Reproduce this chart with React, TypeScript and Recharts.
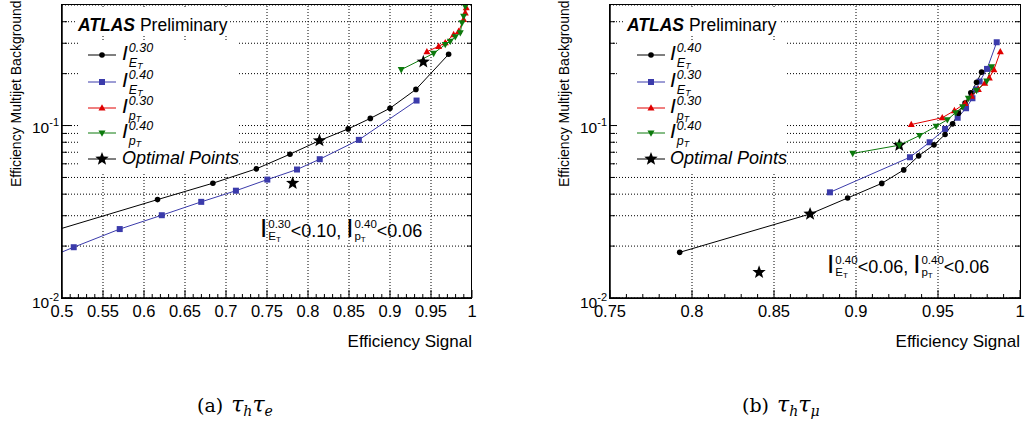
import React from 'react';
import {
  ComposedChart,
  Line,
  Scatter,
  XAxis,
  YAxis,
  CartesianGrid,
  ReferenceLine,
  Legend
} from 'recharts';

const FONT = '"Liberation Sans", Arial, Helvetica, sans-serif';
const SERIF = '"DejaVu Serif", "Liberation Serif", serif';

const BLUE = '#3b3bab';
const RED = '#e00000';
const GREEN = '#0d7a0d';

// (a) tau_h tau_e : signal efficiency (x) vs multijet background efficiency (y)
const etIso30SigA = [0.45, 0.6165, 0.684, 0.737, 0.778, 0.814, 0.849, 0.876, 0.9, 0.9316, 0.9715];
const etIso30BkgA = [0.0215, 0.0372, 0.0463, 0.0561, 0.0682, 0.0818, 0.0956, 0.11, 0.126, 0.162, 0.259];
const etIso40SigA = [0.48, 0.5143, 0.5704, 0.6217, 0.6698, 0.7121, 0.7504, 0.7866, 0.8143, 0.862, 0.9324];
const etIso40BkgA = [0.0169, 0.0197, 0.0251, 0.0302, 0.0361, 0.0419, 0.0486, 0.0556, 0.0638, 0.0826, 0.1396];
const ptIso30SigA = [0.945, 0.9593, 0.9674, 0.9776, 0.9837, 0.9898, 0.9918, 0.993];
const ptIso30BkgA = [0.268, 0.288, 0.302, 0.337, 0.352, 0.412, 0.45, 0.482];
const ptIso40SigA = [0.9137, 0.9532, 0.9674, 0.9735, 0.9796, 0.9857, 0.9878, 0.9898, 0.9918];
const ptIso40BkgA = [0.211, 0.262, 0.295, 0.308, 0.327, 0.345, 0.394, 0.43, 0.49];
const optimalSigA = [0.7813, 0.814, 0.9406];
const optimalBkgA = [0.0463, 0.0818, 0.234];

// (b) tau_h tau_mu
const etIso40SigB = [0.7925, 0.872, 0.8949, 0.9157, 0.9291, 0.9382, 0.9476, 0.9543, 0.9589, 0.9625, 0.9665, 0.97, 0.9735, 0.9766];
const etIso40BkgB = [0.0184, 0.0307, 0.038, 0.0462, 0.0553, 0.0667, 0.0773, 0.0887, 0.1023, 0.118, 0.135, 0.155, 0.178, 0.204];
const etIso30SigB = [0.8841, 0.9329, 0.9449, 0.9543, 0.962, 0.9671, 0.971, 0.9732, 0.9754, 0.9799, 0.9858];
const etIso30BkgB = [0.041, 0.0655, 0.08, 0.0956, 0.111, 0.126, 0.144, 0.162, 0.18, 0.213, 0.304];
const ptIso30SigB = [0.9337, 0.9526, 0.96, 0.9665, 0.9705, 0.9746, 0.9785, 0.9813, 0.9841, 0.988];
const ptIso30BkgB = [0.1014, 0.111, 0.122, 0.1346, 0.148, 0.162, 0.176, 0.189, 0.211, 0.268];
const ptIso40SigB = [0.898, 0.9264, 0.9388, 0.9488, 0.9557, 0.9607, 0.965, 0.9685, 0.9735, 0.9797, 0.9827];
const ptIso40BkgB = [0.0689, 0.0769, 0.0875, 0.099, 0.108, 0.1186, 0.1285, 0.1436, 0.16, 0.181, 0.219];
const optimalSigB = [0.8409, 0.872, 0.9264];
const optimalBkgB = [0.0141, 0.0307, 0.0769];

// axes
const bkgDomain: [number, number] = [0.01, 0.5];
const bkgTicks = [0.01, 0.02, 0.03, 0.04, 0.05, 0.06, 0.07, 0.08, 0.09, 0.1, 0.2, 0.3, 0.4];
const bkgDecades = [0.01, 0.1];
const sigMajorA = [0.5, 0.55, 0.6, 0.65, 0.7, 0.75, 0.8, 0.85, 0.9, 0.95, 1];
const sigMajorB = [0.75, 0.8, 0.85, 0.9, 0.95, 1];

const zip = (xs: number[], ys: number[]) => xs.map((x, i) => ({ x, y: ys[i] }));

const minorSteps = (lo: number, hi: number) => {
  const out: number[] = [];
  for (let k = Math.round(lo * 100); k <= Math.round(hi * 100); k++) out.push(k / 100);
  return out;
};

const isIn = (list: number[], v: number) => list.some(m => Math.abs(m - v) < 1e-6);

const Marker = ({ shape, cx, cy, color }: any) => {
  if (cx == null || cy == null || isNaN(cx) || isNaN(cy)) return null;
  if (shape === 'circle') return <circle cx={cx} cy={cy} r={2.8} fill={color} />;
  if (shape === 'square') return <rect x={cx - 3} y={cy - 3} width={6} height={6} fill={color} />;
  if (shape === 'up')
    return <polygon points={`${cx},${cy - 3.8} ${cx + 3.5},${cy + 2.6} ${cx - 3.5},${cy + 2.6}`} fill={color} />;
  if (shape === 'down')
    return <polygon points={`${cx},${cy + 3.8} ${cx + 3.5},${cy - 2.6} ${cx - 3.5},${cy - 2.6}`} fill={color} />;
  return <StarMark cx={cx} cy={cy} r={7} />;
};

const StarMark = ({ cx, cy, r }: any) => {
  const pts: string[] = [];
  for (let i = 0; i < 10; i++) {
    const rad = i % 2 === 0 ? r : r * 0.42;
    const a = -Math.PI / 2 + (i * Math.PI) / 5;
    pts.push(`${cx + rad * Math.cos(a)},${cy + rad * Math.sin(a)}`);
  }
  return <polygon points={pts.join(' ')} fill="#000" />;
};

const sigTick = (majors: number[], side: 'bottom' | 'top') => (p: any) => {
  const v = p.payload.value;
  const major = isIn(majors, v);
  const len = major ? 8 : 4;
  const dir = side === 'bottom' ? -1 : 1;
  return (
    <g>
      <line x1={p.x} x2={p.x} y1={p.y} y2={p.y + dir * len} stroke="#000" strokeWidth={1} />
      {side === 'bottom' && major && (
        <text x={p.x} y={p.y + 19} textAnchor="middle" fontSize={16.5} fontFamily={FONT} fill="#000">
          {String(+v.toFixed(2))}
        </text>
      )}
    </g>
  );
};

const bkgTick = (side: 'left' | 'right') => (p: any) => {
  const v = p.payload.value;
  const decade = isIn(bkgDecades, v);
  const len = decade ? 10 : 5;
  const dir = side === 'left' ? 1 : -1;
  return (
    <g>
      <line x1={p.x} x2={p.x + dir * len} y1={p.y} y2={p.y} stroke="#000" strokeWidth={1} />
      {side === 'left' && decade && (
        <text
          x={p.x - 3}
          y={p.y + (v === bkgDomain[0] ? 10 : 7)}
          textAnchor="end"
          fontSize={15.5}
          fontFamily={FONT}
          fill="#000"
        >
          10<tspan dy={-7} fontSize={11}>{String(Math.round(Math.log10(v)))}</tspan>
        </text>
      )}
    </g>
  );
};

const xTitle = (lp: any) => {
  const vb = lp.viewBox;
  return (
    <text x={vb.x + vb.width} y={vb.y + 49} textAnchor="end" fontSize={17} fontFamily={FONT} fill="#000">
      Efficiency Signal
    </text>
  );
};

const yTitle = (lp: any) => {
  const vb = lp.viewBox;
  const tx = vb.x + vb.width - 41.5;
  const ty = vb.y + 182;
  return (
    <text x={tx} y={ty} transform={`rotate(-90, ${tx}, ${ty})`} fontSize={14} fontFamily={FONT} fill="#000">
      Efficiency Multijet Background
    </text>
  );
};

// I^{cone}_{E_T or p_T}
const IsoVar = ({ cone, kind, iSize, small, raise, gap, italic }: any) => (
  <span style={{ fontStyle: italic ? 'italic' : 'normal' }}>
    <span style={{ fontSize: iSize, lineHeight: '10px' }}>I</span>
    <span
      style={{
        display: 'inline-flex',
        flexDirection: 'column',
        alignItems: 'flex-start',
        fontSize: small,
        lineHeight: `${gap}px`,
        position: 'relative',
        top: -raise,
        marginLeft: 1
      }}
    >
      <span>{cone}</span>
      <span>
        {kind}
        <span style={{ fontSize: small * 0.7, position: 'relative', top: 2 }}>T</span>
      </span>
    </span>
  </span>
);

const BaseText = ({ x, base, size, children }: any) => (
  <div
    style={{
      position: 'absolute',
      left: x,
      top: base - 0.8465 * size,
      fontSize: size,
      lineHeight: `${size}px`,
      whiteSpace: 'nowrap',
      fontFamily: FONT,
      color: '#000'
    }}
  >
    {children}
  </div>
);

const Overlay = ({ lay, entries, note }: any) => {
  const rows = [55, 81.5, 107.5, 133, 159];
  return (
    <div style={{ position: 'relative', width: 514, height: 360 }}>
      <div style={{ position: 'absolute', background: '#fff', ...lay.atlasBox }} />
      <div style={{ position: 'absolute', background: '#fff', ...lay.legendBox }} />
      <BaseText x={lay.atlasX} base={32} size={17.5}>
        <b><i>ATLAS</i></b> Preliminary
      </BaseText>
      {entries.map((e: any, i: number) => (
        <React.Fragment key={e.name}>
          <svg
            style={{ position: 'absolute', left: lay.markerX, top: rows[i] - 8 }}
            width={28}
            height={16}
          >
            <line x1={0} x2={28} y1={8} y2={8} stroke={e.color} strokeWidth={1} />
            <Marker shape={e.marker} cx={14} cy={8} color={e.color} />
          </svg>
          <BaseText x={lay.labelX} base={rows[i] + 5.5} size={18}>
            {e.cone ? (
              <IsoVar cone={e.cone} kind={e.kind} iSize={21} small={12.5} raise={8} gap={15} italic />
            ) : (
              <i>{e.name}</i>
            )}
          </BaseText>
        </React.Fragment>
      ))}
      <BaseText x={note.x} base={note.base} size={18}>
        <IsoVar cone={note.et} kind="E" iSize={26} small={11.5} raise={9} gap={12} />
        {`<${note.etCut}, `}
        <IsoVar cone={note.pt} kind="p" iSize={26} small={11.5} raise={9} gap={12} />
        {`<${note.ptCut}`}
      </BaseText>
    </div>
  );
};

const W = 514;
const H = 360;

const Panel = ({ cfg }: any) => {
  const ticks = minorSteps(cfg.domain[0], cfg.domain[1]);
  return (
    <ComposedChart width={W} height={H} margin={cfg.margin}>
      <CartesianGrid vertical={false} stroke="#000" strokeDasharray="1 2" strokeWidth={1} />
      {cfg.majors.slice(1, -1).map((v: number) => (
        <ReferenceLine key={v} x={v} stroke="#000" strokeDasharray="1 2" strokeWidth={1} />
      ))}
      <XAxis
        type="number"
        dataKey="x"
        domain={cfg.domain}
        allowDataOverflow
        ticks={ticks}
        interval={0}
        tickSize={0}
        tickMargin={0}
        height={1}
        tick={sigTick(cfg.majors, 'bottom')}
        axisLine={{ stroke: '#000', strokeWidth: 1.5 }}
        label={xTitle}
      />
      <XAxis
        xAxisId="top"
        orientation="top"
        type="number"
        domain={cfg.domain}
        allowDataOverflow
        ticks={ticks}
        interval={0}
        tickSize={0}
        tickMargin={0}
        height={1}
        tick={sigTick(cfg.majors, 'top')}
        axisLine={false}
      />
      <YAxis
        type="number"
        dataKey="y"
        scale="log"
        domain={bkgDomain}
        allowDataOverflow
        ticks={bkgTicks}
        interval={0}
        tickSize={0}
        tickMargin={0}
        width={1}
        tick={bkgTick('left')}
        axisLine={{ stroke: '#000', strokeWidth: 1.5 }}
        label={yTitle}
      />
      <YAxis
        yAxisId="right"
        orientation="right"
        type="number"
        scale="log"
        domain={bkgDomain}
        allowDataOverflow
        ticks={bkgTicks}
        interval={0}
        tickSize={0}
        tickMargin={0}
        width={1}
        tick={bkgTick('right')}
        axisLine={false}
      />
      {cfg.series.map((s: any) => (
        <Line
          key={s.name}
          name={s.name}
          data={zip(s.sig, s.bkg)}
          dataKey="y"
          type="linear"
          stroke={s.color}
          strokeWidth={1}
          dot={(p: any) => <Marker key={`${s.name}-${p.index}`} shape={s.marker} cx={p.cx} cy={p.cy} color={s.color} />}
          activeDot={false}
          isAnimationActive={false}
        />
      ))}
      <Scatter
        name="Optimal Points"
        data={zip(cfg.optSig, cfg.optBkg)}
        dataKey="y"
        fill="#000"
        shape={(p: any) => <StarMark cx={p.cx} cy={p.cy} r={7} />}
        isAnimationActive={false}
      />
      <Legend
        layout="vertical"
        align="center"
        verticalAlign="middle"
        wrapperStyle={{ left: 0, top: 0, width: W, height: H, pointerEvents: 'none' }}
        content={() => <Overlay lay={cfg.legendLayout} entries={cfg.legend} note={cfg.note} />}
      />
    </ComposedChart>
  );
};

// frame drawn over the plot area edges
const Frame = ({ left, top, width, height }: any) => (
  <div
    style={{
      position: 'absolute',
      left,
      top,
      width,
      height,
      border: '1.5px solid #000',
      boxSizing: 'border-box',
      pointerEvents: 'none'
    }}
  />
);

const seriesA = [
  { name: 'etIso30', sig: etIso30SigA, bkg: etIso30BkgA, color: '#000', marker: 'circle' },
  { name: 'etIso40', sig: etIso40SigA, bkg: etIso40BkgA, color: BLUE, marker: 'square' },
  { name: 'ptIso30', sig: ptIso30SigA, bkg: ptIso30BkgA, color: RED, marker: 'up' },
  { name: 'ptIso40', sig: ptIso40SigA, bkg: ptIso40BkgA, color: GREEN, marker: 'down' }
];

const seriesB = [
  { name: 'etIso30', sig: etIso30SigB, bkg: etIso30BkgB, color: BLUE, marker: 'square' },
  { name: 'etIso40', sig: etIso40SigB, bkg: etIso40BkgB, color: '#000', marker: 'circle' },
  { name: 'ptIso30', sig: ptIso30SigB, bkg: ptIso30BkgB, color: RED, marker: 'up' },
  { name: 'ptIso40', sig: ptIso40SigB, bkg: ptIso40BkgB, color: GREEN, marker: 'down' }
];

const legendA = [
  { name: 'etIso30', cone: '0.30', kind: 'E', color: '#000', marker: 'circle' },
  { name: 'etIso40', cone: '0.40', kind: 'E', color: BLUE, marker: 'square' },
  { name: 'ptIso30', cone: '0.30', kind: 'p', color: RED, marker: 'up' },
  { name: 'ptIso40', cone: '0.40', kind: 'p', color: GREEN, marker: 'down' },
  { name: 'Optimal Points', color: '#000', marker: 'star' }
];

const legendB = [
  { name: 'etIso40', cone: '0.40', kind: 'E', color: '#000', marker: 'circle' },
  { name: 'etIso30', cone: '0.30', kind: 'E', color: BLUE, marker: 'square' },
  { name: 'ptIso30', cone: '0.30', kind: 'p', color: RED, marker: 'up' },
  { name: 'ptIso40', cone: '0.40', kind: 'p', color: GREEN, marker: 'down' },
  { name: 'Optimal Points', color: '#000', marker: 'star' }
];

const panelA = {
  domain: [0.5, 1],
  majors: sigMajorA,
  margin: { top: 4, right: 41, bottom: 61, left: 61 },
  series: seriesA,
  optSig: optimalSigA,
  optBkg: optimalBkgA,
  legend: legendA,
  legendLayout: {
    atlasBox: { left: 76, top: 9, width: 154, height: 25 },
    legendBox: { left: 78, top: 40, width: 160, height: 132 },
    atlasX: 78,
    markerX: 88,
    labelX: 122
  },
  note: { x: 260, base: 237, et: '0.30', etCut: '0.10', pt: '0.40', ptCut: '0.06' }
};

const panelB = {
  domain: [0.75, 1],
  majors: sigMajorB,
  margin: { top: 4, right: 7, bottom: 61, left: 95 },
  series: seriesB,
  optSig: optimalSigB,
  optBkg: optimalBkgB,
  legend: legendB,
  legendLayout: {
    atlasBox: { left: 111, top: 9, width: 154, height: 25 },
    legendBox: { left: 103, top: 40, width: 170, height: 132 },
    atlasX: 113,
    markerX: 123,
    labelX: 156
  },
  note: { x: 313, base: 273, et: '0.40', etCut: '0.06', pt: '0.40', ptCut: '0.06' }
};

const Caption = ({ x, tag, sub }: any) => (
  <div
    style={{
      position: 'absolute',
      left: x,
      top: 411 - 0.8 * 19,
      fontFamily: SERIF,
      fontSize: 19,
      lineHeight: '19px',
      whiteSpace: 'nowrap',
      color: '#000'
    }}
  >
    ({tag})
    <span style={{ marginLeft: 8, fontStyle: 'italic', fontSize: 22, lineHeight: '10px' }}>
      τ<sub style={{ fontSize: 14, verticalAlign: '-4px', lineHeight: '10px' }}>h</sub>τ
      <sub style={{ fontSize: 14, verticalAlign: '-4px', lineHeight: '10px' }}>{sub}</sub>
    </span>
  </div>
);

export default function App() {
  return (
    <div
      style={{
        position: 'absolute',
        left: 0,
        top: 0,
        width: 1028,
        height: 428,
        background: '#fff',
        overflow: 'hidden'
      }}
    >
      <div style={{ position: 'absolute', left: 0, top: 0 }}>
        <Panel cfg={panelA} />
      </div>
      <div style={{ position: 'absolute', left: 514, top: 0 }}>
        <Panel cfg={panelB} />
      </div>
      <Frame left={61.3} top={4.3} width={411} height={294.7} />
      <Frame left={609.3} top={4.3} width={411.4} height={294.7} />
      <Caption x={197} tag="a" sub="e" />
      <Caption x={742} tag="b" sub="μ" />
    </div>
  );
}
